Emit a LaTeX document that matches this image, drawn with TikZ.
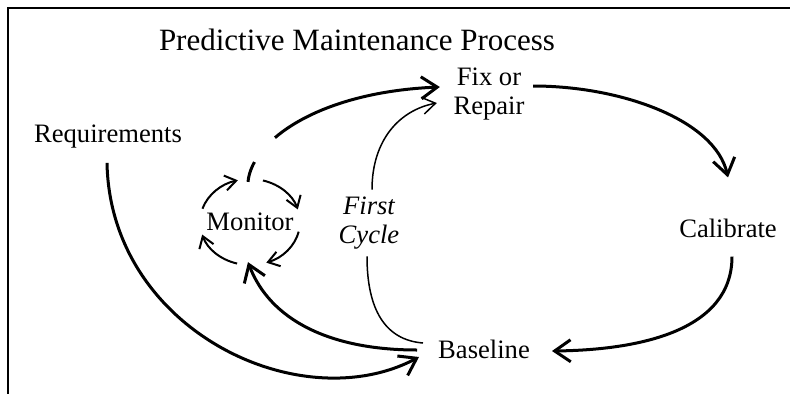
\documentclass[tikz,border=0pt]{standalone}
\usepackage{fontspec}
\setmainfont{Liberation Serif}
\usetikzlibrary{arrows.meta, calc}

\newcommand\lblsize{\fontsize{26.6}{29}\selectfont}

\begin{document}
\begin{tikzpicture}[x=1pt, y=1pt,
  lbl/.style={inner sep=0pt, font=\lblsize, align=center},
  ttl/.style={inner sep=0pt, font=\fontsize{31}{36}\selectfont},
  flowarrow/.style={line width=3pt, -{Straight Barb[length=16pt, width=22pt]}},
  thinarrow/.style={line width=1.5pt, -{Straight Barb[length=13pt, width=17pt]}},
  looparrow/.style={line width=2pt, -{Straight Barb[length=11pt, width=15pt]}}
]
  \useasboundingbox (0,0) rectangle (790,-394);
  \draw[line width=2.5pt] (790,-8) -- (8,-8) -- (8,-394);

  \node[ttl] (title) at (357,-40) {Predictive Maintenance Process};
  \node[lbl] (req)  at (108,-137) {Requirements};
  \node[lbl] (fix)  at (489,-94)  {Fix or\\Repair};
  \node[lbl] (mon)  at (250,-222) {Monitor};
  \node[lbl] (cal)  at (728,-228) {Calibrate};
  \node[lbl] (base) at (484,-349) {Baseline};
  \node[lbl, inner sep=7pt, font=\lblsize\itshape] (cyc) at (369,-223) {First\\Cycle};

  % main cycle
  \draw[flowarrow] ([xshift=8.5,yshift=8]fix.east) .. controls +(87,0) and +(-13,58) .. ([yshift=41]cal.north);
  \draw[flowarrow] ([xshift=4,yshift=-19]cal.south) .. controls +(0,-74) and +(88,1) .. ([xshift=22,yshift=-2]base.east);
  \draw[flowarrow] ([xshift=-21,yshift=-1]base.west) .. controls +(-87,0) and +(22,-58) .. ([xshift=-2,yshift=-31]mon.south);
  \draw[flowarrow, dash pattern=on 21pt off 32pt on 600pt] ([xshift=-2,yshift=31]mon.north) .. controls +(4,42) and +(-120,-5) .. ([xshift=-13.5,yshift=7]fix.west);
  \draw[flowarrow] ([xshift=-1,yshift=-14]req.south) .. controls +(3,-167) and +(-119,-63) .. ([xshift=-19,yshift=-8]base.west);

  % first cycle
  \draw[line width=1.5pt] ([xshift=-15,yshift=6]base.west) .. controls +(-38,3) and +(0,-53) .. ([xshift=-2]cyc.south);
  \draw[thinarrow] ([xshift=3]cyc.north) .. controls +(0,50) and +(-37,-7) .. ([xshift=-16.5,yshift=-9]fix.west);

  % monitor loop
  \foreach \a in {162,75,-13,-105}
    \draw[looparrow] ($(mon.center)+(\a:50 and 43)$) arc[start angle=\a, delta angle=-58, x radius=50, y radius=43];
\end{tikzpicture}
\end{document}
